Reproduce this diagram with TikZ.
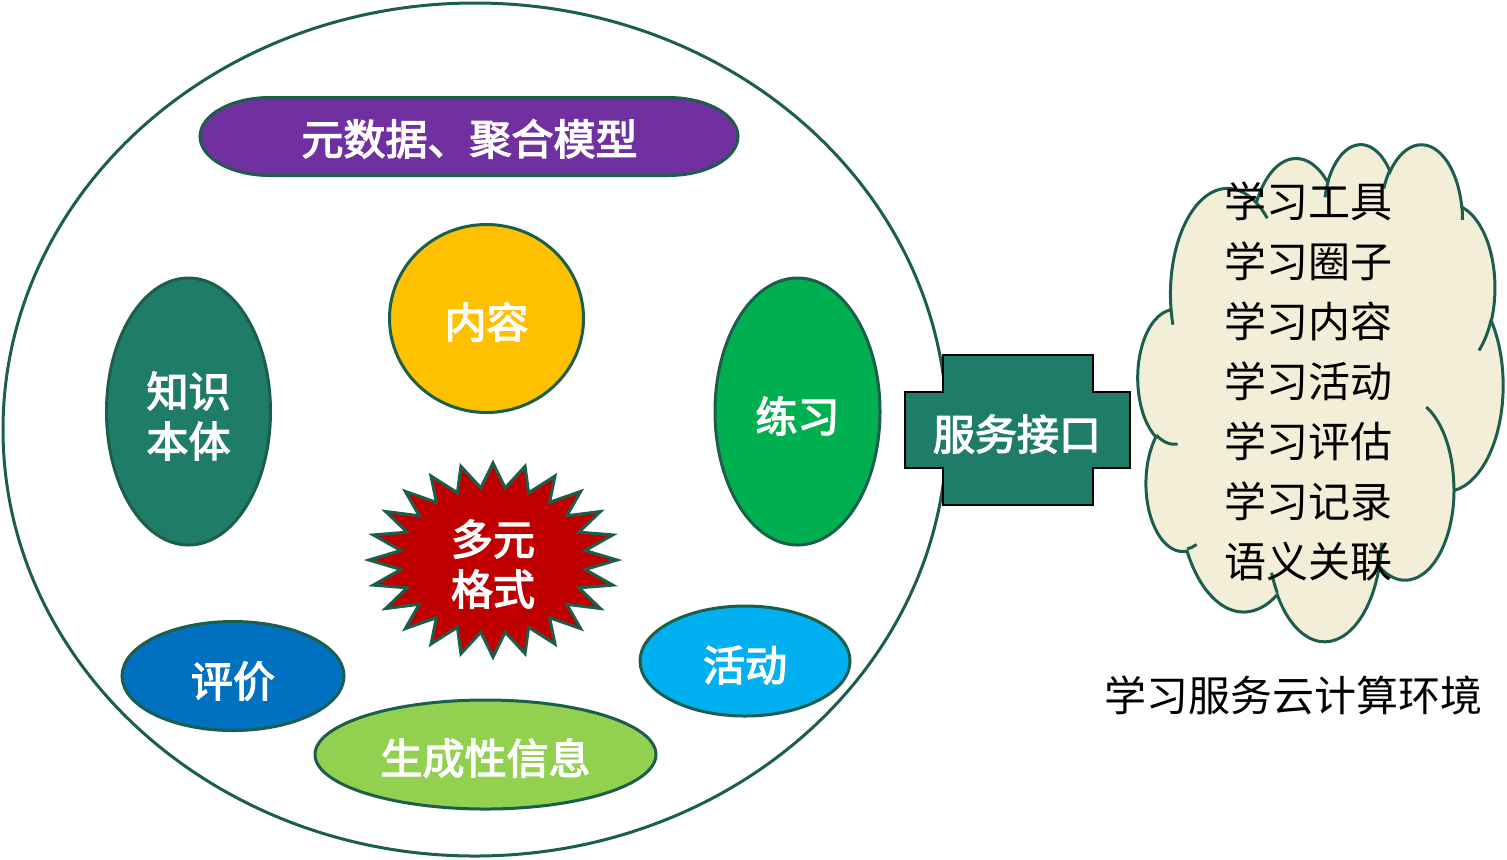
\documentclass[tikz,border=0pt]{standalone}
\usepackage{fontspec}
\newfontfamily\cjk{Noto Sans CJK SC}
\newfontfamily\cjkw{Noto Sans CJK SC}[FakeBold=3]
\usetikzlibrary{shapes.geometric}
\definecolor{edgec}{RGB}{27,94,76}
\definecolor{purplec}{RGB}{112,48,160}
\definecolor{yellowc}{RGB}{255,192,0}
\definecolor{tealc}{RGB}{31,124,104}
\definecolor{greenc}{RGB}{0,176,80}
\definecolor{bluec}{RGB}{0,112,192}
\definecolor{lbluec}{RGB}{0,176,240}
\definecolor{lgreenc}{RGB}{146,208,80}
\definecolor{redc}{RGB}{192,0,0}
\definecolor{cloudc}{RGB}{242,238,215}
\newcommand\mywfont{\cjkw\fontsize{21}{25}\selectfont}
\newcommand\mykfont{\cjk\fontsize{21}{30}\selectfont}
\begin{document}
\begin{tikzpicture}[x=0.5pt,y=-0.5pt,
  outl/.style={draw=edgec, line width=1.5pt},
  blob/.style={ellipse, outl, inner sep=0pt},
  wtext/.style={text=white, font=\mywfont, align=center, inner sep=0pt},
  ktext/.style={text=black, font=\mykfont, inner sep=0pt}]
\useasboundingbox (0,0) rectangle (1507,859);

% environment circle
\node[ellipse, outl, fill=white, minimum width=472pt, minimum height=426.5pt, inner sep=0pt] (env) at (475,429.5) {};

% metadata stadium
\draw[outl, fill=purplec] (270,97.5) -- (668,97.5)
  arc[start angle=-90, end angle=90, x radius=70, y radius=39] -- (270,175.5)
  arc[start angle=90, end angle=270, x radius=70, y radius=39] -- cycle;
\node[wtext] (meta) at (469.5,139) {元数据、聚合模型};

% ellipses
\node[blob, fill=tealc, minimum width=82pt, minimum height=133.5pt] (onto) at (188.5,411.5) {};
\node[blob, fill=yellowc, minimum width=97pt, minimum height=94pt] (cont) at (486.5,318.5) {};
\node[blob, fill=greenc, minimum width=82.5pt, minimum height=133.5pt] (prac) at (797.5,411.5) {};
\node[blob, fill=bluec, minimum width=111pt, minimum height=54.5pt] (eval) at (233,676) {};
\node[blob, fill=lbluec, minimum width=105pt, minimum height=55pt] (act) at (745,661) {};
\node[blob, fill=lgreenc, minimum width=170.5pt, minimum height=54.5pt] (gen) at (485.5,754.5) {};
\node[wtext] (ontot) at (onto.center) [yshift=-2.25pt] {知识\\本体};
\node[wtext] (contt) at (cont.center) [yshift=-1.75pt] {内容};
\node[wtext] (pract) at (prac.center) [yshift=-2.25pt] {练习};
\node[wtext] (evalt) at (eval.center) [yshift=-2.5pt] {评价};
\node[wtext] (actt) at (act.center) [yshift=-2pt] {活动};
\node[wtext] (gent) at (gen.center) [yshift=-1.75pt] {生成性信息};

% star
\begin{scope}[shift={(493,560)}]
\draw[outl, fill=redc] (0,-97)
  \foreach \k in {1,...,47} { -- ({124*cos(90+7.5*\k)*(1-0.25*mod(\k,2))}, {-97*sin(90+7.5*\k)*(1-0.25*mod(\k,2))}) } -- cycle;
\end{scope}
\node[wtext] (fmt) at (493,564) {多元\\格式};

% service interface
\draw[draw=black, line width=1pt, fill=tealc] (943,355) -- (1092.5,355) -- (1092.5,392) -- (1129.5,392) -- (1129.5,467.5) -- (1092.5,467.5) -- (1092.5,504.5) -- (943,504.5) -- (943,467.5) -- (905,467.5) -- (905,392) -- (943,392) -- cycle;
\node[wtext] (api) at (1017,434) {服务接口};

% cloud
\begin{scope}[shift={(1138,143)}, x=0.42245pt, y=-0.57523pt]
\draw[outl, fill=cloudc] (39,143.7)
 arc[start angle=-187.746, delta angle=128.1, x radius=67.53, y radius=91.90]
 arc[start angle=-152.034, delta angle=106.57, x radius=53.33, y radius=72.67]
 arc[start angle=-153.48, delta angle=116.16, x radius=43.65, y radius=59.45]
 arc[start angle=-139.71, delta angle=129.50, x radius=48.57, y radius=65.95]
 arc[start angle=-74.77, delta angle=97.98, x radius=53.33, y radius=72.73]
 arc[start angle=-37.52, delta angle=119.38, x radius=67.75, y radius=92.20]
 arc[start angle=0.459, delta angle=121.51, x radius=57.85, y radius=78.67]
 arc[start angle=16.84, delta angle=129.39, x radius=67.52, y radius=92.15]
 arc[start angle=58.99, delta angle=91.19, x radius=77.20, y radius=105.43]
 arc[start angle=83.31, delta angle=139.77, x radius=43.60, y radius=59.18]
 arc[start angle=120.36, delta angle=143.75, x radius=43.45, y radius=59.45]
 -- cycle;
\draw[outl]
 (46.93,261.77) arc[start angle=85.55, delta angle=34.81, x radius=43.45, y radius=59.45]
 (69.28,348.99) arc[start angle=68.24, delta angle=15.07, x radius=43.60, y radius=59.18]
 (164.78,390.90) arc[start angle=146.23, delta angle=12.24, x radius=67.52, y radius=92.15]
 (288.27,347.51) arc[start angle=4.74, delta angle=12.10, x radius=67.52, y radius=92.15]
 (341.29,229.54) arc[start angle=-64.03, delta angle=64.49, x radius=57.85, y radius=78.67]
 (417.98,153.54) arc[start angle=23.21, delta angle=26.44, x radius=53.33, y radius=72.73]
 (383.24,54.26) arc[start angle=-10.21, delta angle=11.03, x radius=48.57, y radius=65.95]
 (290.78,39.52) arc[start angle=-156.29, delta angle=16.58, x radius=48.57, y radius=65.95]
 (221.41,47.20) arc[start angle=-167.73, delta angle=14.25, x radius=43.65, y radius=59.45]
 (140.00,51.92) arc[start angle=-59.64, delta angle=13.90, x radius=67.53, y radius=91.90]
 (41.27,157.89) arc[start angle=163.20, delta angle=9.05, x radius=67.53, y radius=91.90];
\end{scope}

\node[ktext, align=left, anchor=west] (list) at (1224,381.5) {学习工具\\学习圈子\\学习内容\\学习活动\\学习评估\\学习记录\\语义关联};
\node[ktext] (cap) at (1293.5,695) {学习服务云计算环境};
\end{tikzpicture}
\end{document}
